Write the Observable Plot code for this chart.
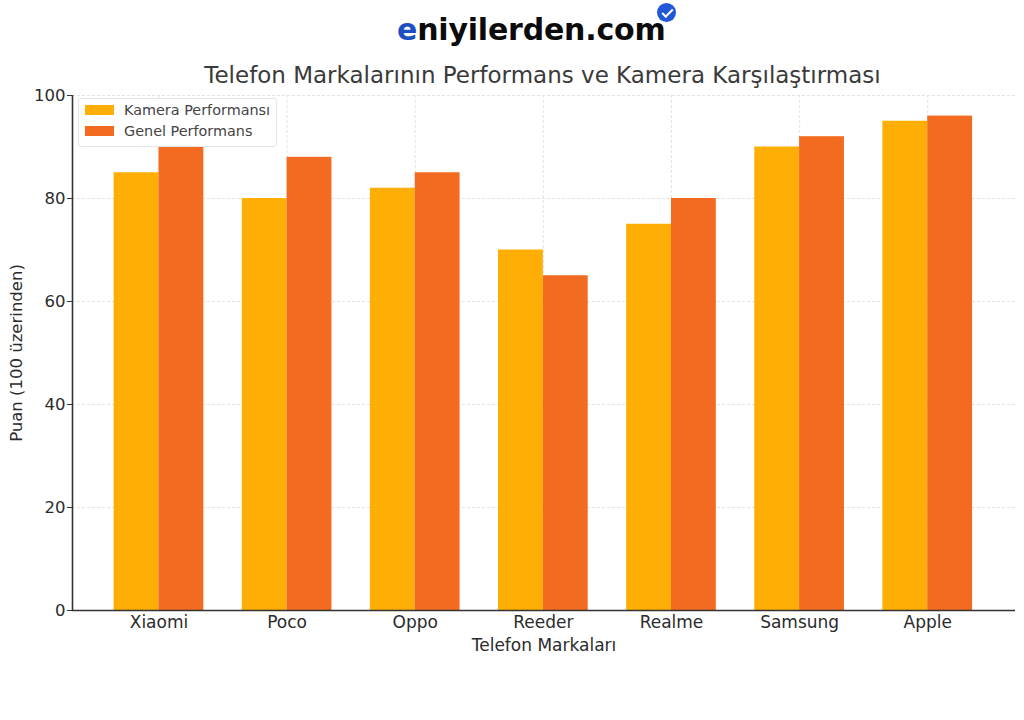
<!DOCTYPE html>
<html><head><meta charset="utf-8">
<script src="https://cdn.jsdelivr.net/npm/d3@7"></script>
<script src="https://cdn.jsdelivr.net/npm/@observablehq/plot@0.6"></script>
<style>
html,body{margin:0;padding:0;background:#fff;font-family:"DejaVu Sans",sans-serif;}
#wrap{position:relative;width:1024px;height:720px;overflow:hidden;}
#logo{position:absolute;left:397px;top:12px;white-space:nowrap;font:700 30px "DejaVu Sans",sans-serif;color:#0b0b0b;letter-spacing:-.2px;}
#logo span{color:#1d4fc4;}
#badge{position:absolute;left:657px;top:3px;width:19px;height:19px;border-radius:50%;background:#2257d6;z-index:2;}
#badge::after{content:"";position:absolute;left:4.5px;top:5.5px;width:9px;height:4px;border-left:2px solid #fff;border-bottom:2px solid #fff;transform:rotate(-45deg);}
#title{position:absolute;left:0;width:1085px;top:62px;text-align:center;font:23px "DejaVu Sans",sans-serif;color:#3a3a3a;}
#legend{position:absolute;left:78px;top:98px;width:197px;height:47px;background:rgba(255,255,255,.92);border:1px solid #e4e4e4;border-radius:3px;font:14.4px "DejaVu Sans",sans-serif;color:#444;z-index:2;}
#legend div{position:absolute;left:6px;display:flex;align-items:center;gap:10px;white-space:nowrap;}
#legend i{display:block;width:29px;height:10px;}
svg{display:block;}
</style></head><body>
<div id="wrap">
<div id="logo"><span>e</span>niyilerden.com</div>
<div id="badge"></div>
<div id="title">Telefon Markalarının Performans ve Kamera Karşılaştırması</div>
<div id="legend"></div>
<div id="chart"></div>
</div>
<script>
const brands = ["Xiaomi","Poco","Oppo","Reeder","Realme","Samsung","Apple"];
const seriesNames = ["Kamera Performansı","Genel Performans"];
const seriesColors = ["#FFAE05","#F36A21"];
const kamera = [85,80,82,70,75,90,95];
const genel = [90,88,85,65,80,92,96];
const yTicks = [0,20,40,60,80,100];
const xTicks = brands.map((b,i)=>i);
const barWidth = 0.35;

const rows = brands.flatMap((b,i)=>[
  {x1:i-barWidth,x2:i,series:seriesNames[0],value:kamera[i]},
  {x1:i,x2:i+barWidth,series:seriesNames[1],value:genel[i]}
]);

const chart = Plot.plot({
  width:1024,height:720,
  marginLeft:72,marginRight:9,marginTop:95,marginBottom:110,
  style:{fontFamily:"DejaVu Sans",fontSize:"17px",color:"#2b2b2b",background:"#fff"},
  x:{domain:[-0.675,6.685]},
  y:{domain:[0,100]},
  color:{domain:seriesNames,range:seriesColors},
  marks:[
    Plot.gridX(xTicks,{stroke:"#dcdcdc",strokeOpacity:1,strokeDasharray:"3,2",strokeWidth:0.8}),
    Plot.gridY(yTicks,{stroke:"#dcdcdc",strokeOpacity:1,strokeDasharray:"3,2",strokeWidth:0.8}),
    Plot.rectY(rows,{x1:"x1",x2:"x2",y:"value",fill:"series"}),
    Plot.ruleY([0],{stroke:"#333",strokeWidth:1.6}),
    Plot.ruleX([-0.675],{stroke:"#333",strokeWidth:1.6}),
    Plot.axisY(yTicks,{tickSize:5,tickPadding:2,fontSize:16.5,label:"Puan (100 üzerinden)",labelAnchor:"center",labelArrow:"none",labelOffset:62,stroke:"#333",dy:0}),
    Plot.axisX(xTicks,{tickSize:0,tickPadding:5,fontSize:17,tickFormat:i=>brands[i],label:"Telefon Markaları",labelAnchor:"center",labelArrow:"none",labelOffset:40})
  ]
});
document.getElementById("chart").appendChild(chart);

const leg=document.getElementById("legend");
seriesNames.forEach((n,i)=>{
  const d=document.createElement("div");
  d.style.top=(i===0?3:24)+"px";
  const sw=document.createElement("i");sw.style.background=seriesColors[i];
  const t=document.createElement("span");t.textContent=n;
  d.append(sw,t);leg.append(d);
});
</script>
</body></html>
